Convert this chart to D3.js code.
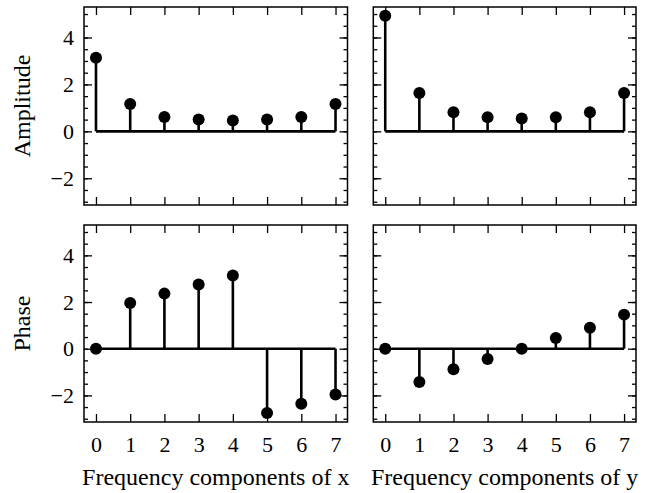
<!DOCTYPE html>
<html>
<head>
<meta charset="utf-8">
<script src="https://cdn.jsdelivr.net/npm/d3@7"></script>
<style>
  body { margin: 0; background: #fff; }
  svg text { font-family: "Liberation Serif", "Times New Roman", serif; fill: #000; }
</style>
</head>
<body>
<div id="chart"></div>
<script>
// frequency index and spectra
var freqs = [0, 1, 2, 3, 4, 5, 6, 7];
var ampX = [3.14, 1.17, 0.61, 0.50, 0.46, 0.50, 0.61, 1.17];
var ampY = [4.93, 1.63, 0.81, 0.60, 0.55, 0.60, 0.81, 1.63];
var phaseX = [0, 1.96, 2.36, 2.75, 3.14, -2.75, -2.36, -1.96];
var phaseY = [0, -1.43, -0.88, -0.44, 0, 0.46, 0.90, 1.46];
var yTicks = [-2, 0, 2, 4];
var yLabels = ["Amplitude", "Phase"];
var xLabels = ["Frequency components of x", "Frequency components of y"];

var W = 651, H = 493;
var svg = d3.select("#chart").append("svg")
    .attr("width", W)
    .attr("height", H);

// panel boxes
var cols = [{x0: 84, x1: 347.5}, {x0: 373.3, x1: 636}];
var rows = [{y0: 7, y1: 205}, {y0: 225, y1: 422}];

var panels = [
  {r: 0, c: 0, vals: ampX},
  {r: 0, c: 1, vals: ampY},
  {r: 1, c: 0, vals: phaseX},
  {r: 1, c: 1, vals: phaseY}
];

var minorY = d3.range(-3, 5.01, 0.5);

panels.forEach(function(p) {
  var col = cols[p.c], row = rows[p.r];
  var x = d3.scaleLinear().domain([-0.35, 7.35]).range([col.x0, col.x1]);
  var y = d3.scaleLinear().domain([-3.14, 5.3]).range([row.y1, row.y0]);
  var g = svg.append("g");

  // stems
  g.selectAll(".stem").data(freqs).enter().append("line")
      .attr("x1", function(d) { return x(d); })
      .attr("x2", function(d) { return x(d); })
      .attr("y1", y(0))
      .attr("y2", function(d, i) { return y(p.vals[i]); })
      .attr("stroke", "#000")
      .attr("stroke-width", 2.6);

  // baseline
  g.append("line")
      .attr("x1", x(freqs[0])).attr("x2", x(freqs[freqs.length - 1]))
      .attr("y1", y(0)).attr("y2", y(0))
      .attr("stroke", "#000")
      .attr("stroke-width", 2.6);

  // markers
  g.selectAll(".dot").data(freqs).enter().append("circle")
      .attr("cx", function(d) { return x(d); })
      .attr("cy", function(d, i) { return y(p.vals[i]); })
      .attr("r", 6)
      .attr("fill", "#000");

  // inward ticks on all sides
  var bottom = g.append("g").attr("transform", "translate(0," + row.y1 + ")")
      .call(d3.axisBottom(x).tickValues(freqs).tickSize(-8).tickPadding(14)
        .tickFormat(p.r === 1 ? d3.format("d") : ""));
  var top = g.append("g").attr("transform", "translate(0," + row.y0 + ")")
      .call(d3.axisTop(x).tickValues(freqs).tickSize(-8).tickFormat(""));

  var leftMinor = g.append("g").attr("transform", "translate(" + col.x0 + ",0)")
      .call(d3.axisLeft(y).tickValues(minorY).tickSize(-4).tickFormat(""));
  var rightMinor = g.append("g").attr("transform", "translate(" + col.x1 + ",0)")
      .call(d3.axisRight(y).tickValues(minorY).tickSize(-4).tickFormat(""));
  var left = g.append("g").attr("transform", "translate(" + col.x0 + ",0)")
      .call(d3.axisLeft(y).tickValues(yTicks).tickSize(-8).tickPadding(10)
        .tickFormat(p.c === 0 ? function(d) { return d < 0 ? "\u2212" + Math.abs(d) : d; } : ""));
  var right = g.append("g").attr("transform", "translate(" + col.x1 + ",0)")
      .call(d3.axisRight(y).tickValues(yTicks).tickSize(-8).tickFormat(""));

  [bottom, top, leftMinor, rightMinor, left, right].forEach(function(a) {
    a.select(".domain").remove();
    a.selectAll("line").attr("stroke", "#000").attr("stroke-width", 1.3);
    a.selectAll("text").style("font-size", "22px").attr("fill", "#000");
  });

  // frame
  g.append("rect")
      .attr("x", col.x0).attr("y", row.y0)
      .attr("width", col.x1 - col.x0).attr("height", row.y1 - row.y0)
      .attr("fill", "none")
      .attr("stroke", "#000")
      .attr("stroke-width", 1.5);

  if (p.c === 0) {
    g.append("text")
        .attr("transform", "translate(30," + ((row.y0 + row.y1) / 2) + ") rotate(-90)")
        .attr("text-anchor", "middle")
        .style("font-size", "24px")
        .text(yLabels[p.r]);
  }
  if (p.r === 1) {
    g.append("text")
        .attr("x", (col.x0 + col.x1) / 2)
        .attr("y", 485)
        .attr("text-anchor", "middle")
        .style("font-size", "24px")
        .text(xLabels[p.c]);
  }
});
</script>
</body>
</html>
